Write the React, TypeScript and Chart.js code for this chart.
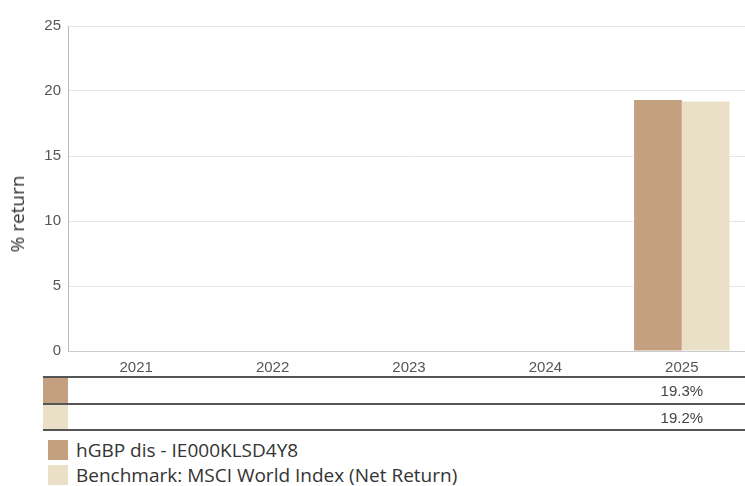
import React, { useEffect, useRef } from "react";
import { Chart, registerables } from "chart.js";

Chart.register(...registerables);

const categories = ["2021", "2022", "2023", "2024", "2025"];
const fundReturns: (number | null)[] = [null, null, null, null, 19.3];
const benchReturns: (number | null)[] = [null, null, null, null, 19.2];
const fundLabel = "hGBP dis - IE000KLSD4Y8";
const benchLabel = "Benchmark: MSCI World Index (Net Return)";
const yTicks = [0, 5, 10, 15, 20, 25];
const yTitle = "% return";
const fundColor = "#c4a080";
const benchColor = "#eae0c8";

export default function App() {
  const ref = useRef<HTMLCanvasElement | null>(null);
  useEffect(() => {
    if (!ref.current) return;
    const chart = new Chart(ref.current, {
      type: "bar",
      data: {
        labels: categories,
        datasets: [
          { label: fundLabel, data: fundReturns, backgroundColor: fundColor, borderWidth: 0 },
          { label: benchLabel, data: benchReturns, backgroundColor: benchColor, borderWidth: 0 },
        ],
      },
      options: {
        animation: false,
        responsive: false,
        maintainAspectRatio: false,
        layout: { padding: { top: 26, right: 0, left: 0, bottom: 0 } },
        plugins: { legend: { display: false }, tooltip: { enabled: false } },
        datasets: { bar: { categoryPercentage: 0.7, barPercentage: 1.0 } },
        scales: {
          x: {
            grid: { display: false, drawTicks: false },
            border: { color: "#cccccc", width: 1 },
            ticks: { color: "#555555", font: { family: "Liberation Sans, Arial, sans-serif", size: 15 }, padding: 8 },
            afterFit: (s: any) => { s.height = 26; },
          },
          y: {
            min: 0,
            max: 25,
            afterBuildTicks: (s: any) => { s.ticks = yTicks.map((v) => ({ value: v })); },
            grid: { color: "#e6e6e6", drawTicks: false },
            border: { color: "#bbbbbb", width: 1 },
            ticks: { color: "#555555", font: { family: "Liberation Sans, Arial, sans-serif", size: 15 }, padding: 7 },
            title: { display: false },
            afterFit: (s: any) => { s.width = 68; },
          },
        },
      },
    });
    return () => chart.destroy();
  }, []);

  const cell: React.CSSProperties = { flex: 1, textAlign: "center", fontFamily: "Liberation Sans, Arial, sans-serif", fontSize: 15, color: "#444", lineHeight: "25px" };
  const row = (color: string, vals: (number | null)[], top: number) => (
    <div style={{ position: "absolute", left: 43, top, width: 707, height: 25, display: "flex" }}>
      <div style={{ width: 25, height: 25, background: color }} />
      {vals.map((v, i) => (
        <div key={i} style={cell}>{v == null ? "" : v.toFixed(1) + "%"}</div>
      ))}
    </div>
  );
  const line = (top: number) => (
    <div style={{ position: "absolute", left: 43, top, width: 707, height: 2, background: "#555" }} />
  );
  const legendItem = (color: string, text: string, top: number) => (
    <div style={{ position: "absolute", left: 48, top, display: "flex", alignItems: "center", height: 20 }}>
      <div style={{ width: 20, height: 20, background: color }} />
      <span style={{ marginLeft: 8, fontFamily: "Open Sans, sans-serif", fontSize: 19, color: "#333", whiteSpace: "nowrap" }}>{text}</span>
    </div>
  );

  return (
    <div style={{ position: "fixed", left: 0, top: 0, width: 745, height: 486, background: "#fff", overflow: "hidden" }}>
      <canvas ref={ref} width={750} height={377} style={{ position: "absolute", left: 0, top: 0, width: 750, height: 377 }} />
      <div style={{ position: "absolute", left: 17, top: 214, width: 0, height: 0 }}>
        <div style={{ position: "absolute", left: 0, top: 0, transform: "translate(-50%, -50%) rotate(-90deg)", fontFamily: "Open Sans, sans-serif", fontSize: 19, color: "#333", whiteSpace: "nowrap", lineHeight: "20px" }}>{yTitle}</div>
      </div>
      {line(376)}
      {row(fundColor, fundReturns, 378)}
      {line(403)}
      {row(benchColor, benchReturns, 405)}
      {line(429)}
      {legendItem(fundColor, fundLabel, 440)}
      {legendItem(benchColor, benchLabel, 465)}
    </div>
  );
}
